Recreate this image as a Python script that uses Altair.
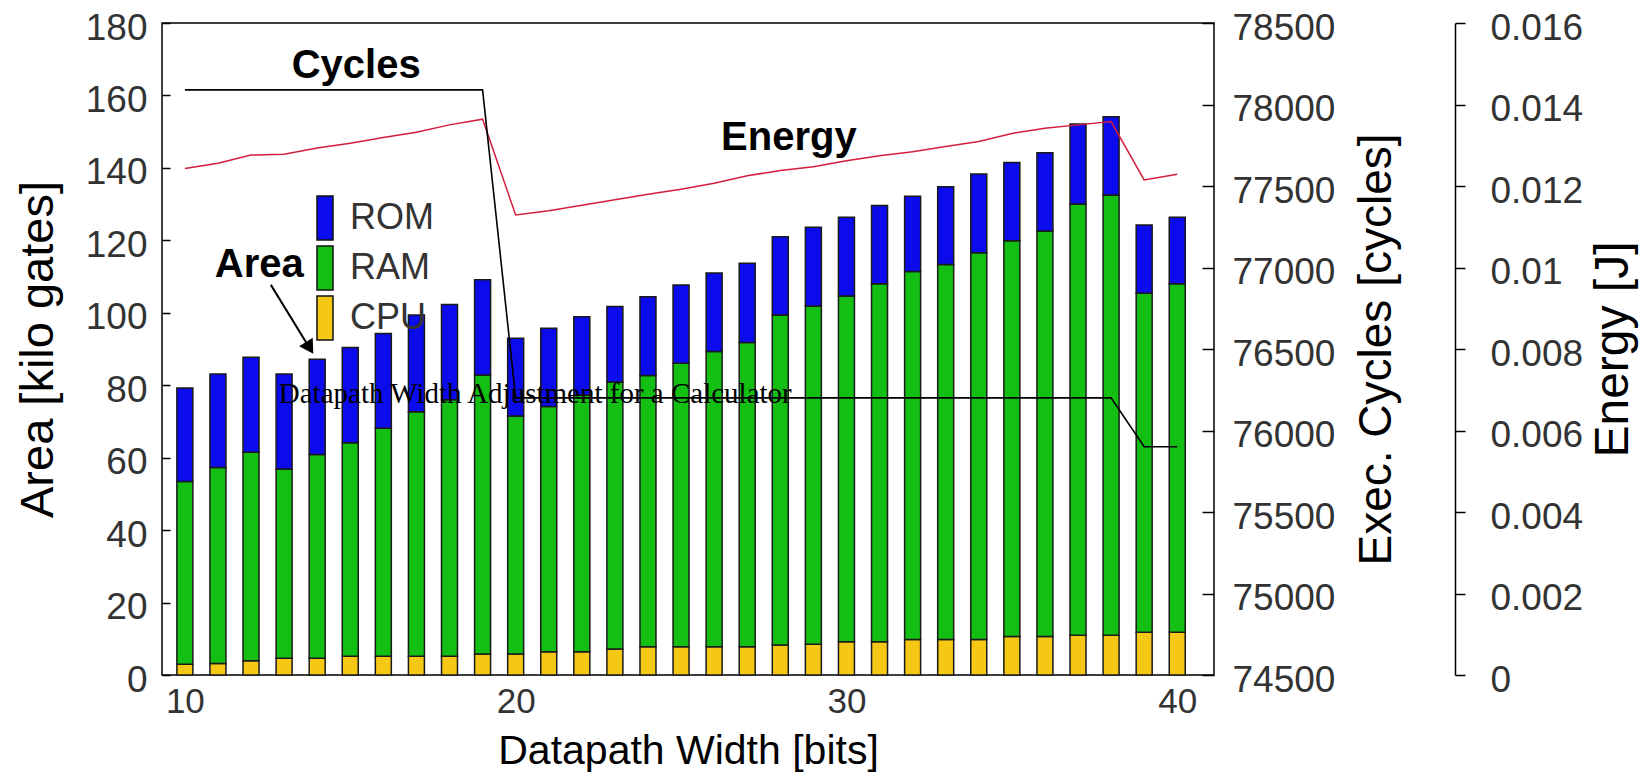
import altair as alt
import pandas as pd

# ---------------- data ----------------
widths = list(range(10, 41))
cpu = [3.0, 3.2, 3.9, 4.6, 4.6, 5.2, 5.2, 5.2, 5.2, 5.8,
       5.8, 6.4, 6.4, 7.2, 7.8, 7.8, 7.8, 7.8, 8.3, 8.5,
       9.2, 9.2, 9.8, 9.8, 9.8, 10.6, 10.6, 11.0, 11.0, 11.8, 11.8]
ram = [50.4, 54.1, 57.6, 52.3, 56.3, 58.9, 62.9, 67.5, 70.8, 77.0,
       65.7, 67.7, 70.9, 73.7, 74.9, 78.3, 81.5, 84.0, 91.1, 93.4,
       95.4, 98.8, 101.6, 103.5, 106.8, 109.3, 112.0, 119.0, 121.5, 93.6, 96.2]
rom = [25.8, 25.8, 26.2, 26.2, 26.3, 26.3, 26.2, 26.7, 26.3, 26.3,
       21.5, 21.6, 21.6, 20.8, 21.7, 21.6, 21.7, 21.9, 21.6, 21.7,
       21.8, 21.6, 20.8, 21.5, 21.7, 21.6, 21.6, 22.1, 21.6, 18.8, 18.4]
cycles = [78090] * 10 + [76200] * 19 + [75900] * 2
energy = [0.01243, 0.01256, 0.01276, 0.01278, 0.01293, 0.01305, 0.01319, 0.01332, 0.01350, 0.01364,
          0.01129, 0.01139, 0.01153, 0.01166, 0.01180, 0.01192, 0.01207, 0.01225, 0.01238, 0.01247,
          0.01262, 0.01274, 0.01284, 0.01297, 0.01309, 0.01329, 0.01342, 0.01350, 0.01358, 0.01215, 0.01229]

components = ["ROM", "RAM", "CPU"]
component_colors = ["#0b0bec", "#12bf12", "#f4c814"]

area_ticks = list(range(0, 181, 20))
cycle_ticks = list(range(74500, 78501, 500))
energy_ticks = [0, 0.002, 0.004, 0.006, 0.008, 0.01, 0.012, 0.014, 0.016]
x_ticks = [10, 20, 30, 40]

# annotations (data coordinates)
label_text = ["Cycles", "Energy", "Area"]
label_x = [15.18, 28.26, 12.25]
label_y = [164.7, 144.9, 110.0]
arrow_x = [12.6, 13.77]
arrow_y = [107.7, 90.3]
title_text = ["Datapath Width Adjustment for a Calculator"]
title_x = [12.84]
title_y = [75.1]

# ---------------- tables ----------------
rows = []
for i, w in enumerate(widths):
    rows.append({"width": w, "component": "CPU", "value": cpu[i], "ord": 0})
    rows.append({"width": w, "component": "RAM", "value": ram[i], "ord": 1})
    rows.append({"width": w, "component": "ROM", "value": rom[i], "ord": 2})
bars_df = pd.DataFrame(rows)
line_df = pd.DataFrame({"width": widths, "cycles": cycles, "energy": energy})
labels_df = pd.DataFrame({"width": label_x, "area": label_y, "label": label_text})
arrow_df = pd.DataFrame({"width": arrow_x, "area": arrow_y})
head_df = pd.DataFrame({"width": arrow_x[-1:], "area": arrow_y[-1:]})
title_df = pd.DataFrame({"width": title_x, "area": title_y, "label": title_text})

FONT = "Liberation Sans"
LABEL_C = "#333333"
TICK_FS = 37

x_scale = alt.Scale(domain=[9.46, 40.96], nice=False, zero=False)
x_axis = alt.Axis(values=x_ticks, ticks=False, tickSize=0, domain=False, grid=False,
                  labelFontSize=35, labelPadding=9, labelColor=LABEL_C, labelFlush=False,
                  title="Datapath Width [bits]", titleFontSize=41, titleFontWeight="normal",
                  titleColor="black", titleBaseline="alphabetic", titleY=88)
X = alt.X("width:Q", scale=x_scale, axis=x_axis)

area_scale = alt.Scale(domain=[0, 180], nice=False, zero=True)

left_axis = alt.Axis(orient="left", values=area_ticks, offset=-8, tickSize=8, domain=False,
                     grid=False, labelPadding=15, labelFontSize=TICK_FS, labelColor=LABEL_C,
                     labelFlush=False, labelOffset=5, tickColor="black", tickWidth=1.5,
                     title="Area [kilo gates]", titleFontSize=47, titleFontWeight="normal",
                     titleColor="black", titleAngle=270, titleBaseline="alphabetic",
                     titleX=-118, titleY=326)

bars = alt.Chart(bars_df).mark_bar(size=16, stroke="#1a1a1a", strokeWidth=1.5).encode(
    x=X,
    y=alt.Y("value:Q", stack="zero", scale=area_scale, axis=left_axis),
    color=alt.Color("component:N",
                    scale=alt.Scale(domain=components, range=component_colors),
                    legend=alt.Legend(title=None, orient="none", legendX=140, legendY=172,
                                      symbolType="M-0.364,-1H0.364V1H-0.364Z",
                                      symbolSize=1936, symbolStrokeColor="#111111",
                                      symbolStrokeWidth=1.5, symbolOpacity=1,
                                      rowPadding=0, padding=0, labelOffset=2,
                                      labelFontSize=36, labelColor=LABEL_C, labelFont=FONT)),
    order=alt.Order("ord:Q"),
)

cyc_axis = alt.Axis(orient="right", values=cycle_ticks, format="d", offset=-12, tickSize=12,
                    domain=False, grid=False, labelPadding=18, labelFontSize=TICK_FS,
                    labelColor=LABEL_C, labelFlush=False, labelOffset=5,
                    tickColor="black", tickWidth=1.5,
                    title="Exec. Cycles [cycles]", titleFontSize=46, titleFontWeight="normal",
                    titleColor="black", titleAngle=270, titleBaseline="alphabetic",
                    titleX=188, titleY=326)
cyc_line = alt.Chart(line_df).mark_line(color="black", strokeWidth=1.6).encode(
    x=X,
    y=alt.Y("cycles:Q", scale=alt.Scale(domain=[74500, 78500], nice=False, zero=False),
            axis=cyc_axis),
)

en_axis = alt.Axis(orient="right", values=energy_ticks, format="~g", offset=241, tickSize=10,
                   domain=True, domainColor="black", domainWidth=1.5, grid=False,
                   labelPadding=25, labelFontSize=TICK_FS, labelColor=LABEL_C, labelFlush=False,
                   labelOffset=5, tickColor="black", tickWidth=1.5,
                   title="Energy [J]", titleFontSize=48, titleFontWeight="normal",
                   titleColor="black", titleAngle=270, titleBaseline="alphabetic",
                   titleX=172, titleY=326)
en_line = alt.Chart(line_df).mark_line(color="#d21e3c", strokeWidth=1.5).encode(
    x=X,
    y=alt.Y("energy:Q", scale=alt.Scale(domain=[0, 0.016], nice=False), axis=en_axis),
)

Yann = alt.Y("area:Q", scale=area_scale, axis=None)

labels = alt.Chart(labels_df).mark_text(font=FONT, fontWeight="bold", fontSize=40,
                                        align="center", baseline="alphabetic",
                                        color="black").encode(x=X, y=Yann, text="label:N")
arrow = alt.Chart(arrow_df).mark_line(color="black", strokeWidth=2).encode(x=X, y=Yann)
head = alt.Chart(head_df).mark_point(shape="triangle-down", filled=True, size=260,
                                     angle=328, color="black", opacity=1).encode(x=X, y=Yann)
title = alt.Chart(title_df).mark_text(font="Liberation Serif", fontSize=29, align="left",
                                      baseline="alphabetic", color="black").encode(
    x=X, y=Yann, text="label:N")

chart = alt.layer(bars, en_line, cyc_line, labels, arrow, head, title).resolve_scale(
    y="independent"
).properties(
    width=1052, height=652,
    autosize=alt.AutoSizeParams(type="none"),
    padding={"left": 154, "top": 15, "right": 430, "bottom": 97},
    background="white",
).configure_view(
    stroke="black", strokeWidth=1.5
).configure_axis(
    labelFont=FONT, titleFont=FONT, labelOverlap=False
)

chart.save("out.html", embed_options={"renderer": "svg", "actions": False})
